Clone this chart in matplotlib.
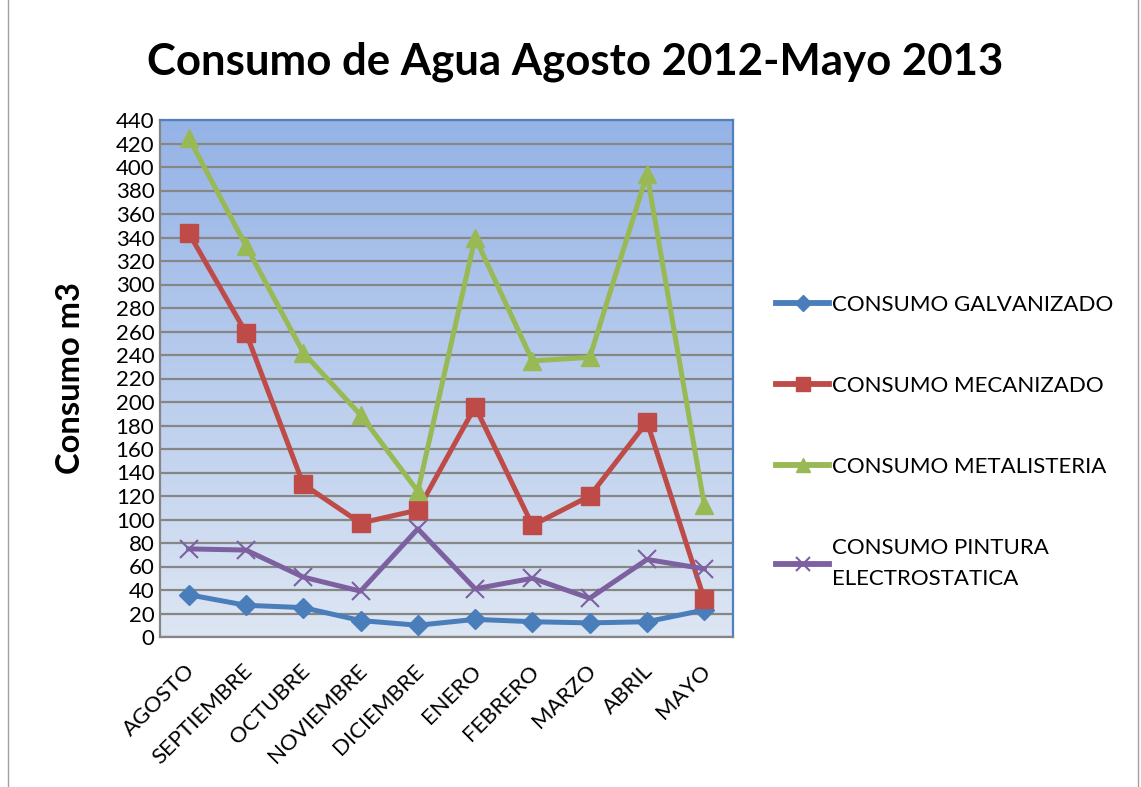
import numpy as np
import matplotlib
matplotlib.use("Agg")
import matplotlib.pyplot as plt
import matplotlib.transforms as mtrans
from matplotlib.patches import Rectangle

plt.rcParams['font.family'] = ['Lato', 'DejaVu Sans']

# ---------------------------------------------------------------------------
# Data
# ---------------------------------------------------------------------------
meses = ['AGOSTO', 'SEPTIEMBRE', 'OCTUBRE', 'NOVIEMBRE', 'DICIEMBRE',
         'ENERO', 'FEBRERO', 'MARZO', 'ABRIL', 'MAYO']
galvanizado = [36, 27, 25, 14, 10, 15, 13, 12, 13, 23]
mecanizado  = [344, 259, 130, 97, 108, 196, 95, 120, 183, 32]
metalisteria = [425, 333, 242, 189, 124, 340, 235, 238, 394, 112]
pintura     = [75, 74, 51, 39, 92, 41, 50, 33, 66, 58]

series = [
    ('CONSUMO GALVANIZADO', galvanizado, '#4a7ebb', 'D', 10),
    ('CONSUMO MECANIZADO', mecanizado, '#be4b48', 's', 13),
    ('CONSUMO METALISTERIA', metalisteria, '#98b954', '^', 13),
    ('CONSUMO PINTURA\nELECTROSTATICA', pintura, '#7d60a0', 'x', 13),
]

fig = plt.figure(figsize=(11.41, 7.87), dpi=100)
ax = fig.add_axes([160/1141, 1 - 637/787, 573/1141, 517/787])

# gradient background
grad = np.linspace(0, 1, 256).reshape(-1, 1)
top = np.array([0x95, 0xb3, 0xe7]) / 255
bot = np.array([0xdd, 0xe6, 0xf3]) / 255
img = top[None, None, :] * (1 - grad[:, :, None]) + bot[None, None, :] * grad[:, :, None]
ax.imshow(img, extent=[0, 1, 0, 1], transform=ax.transAxes, aspect='auto', zorder=0)

x = np.arange(len(meses))
for label, vals, col, mk, ms in series:
    kw = dict(color=col, lw=3.6, marker=mk, markersize=ms, label=label, zorder=3)
    if mk == 'x':
        kw.update(markeredgewidth=1.5)
    ax.plot(x, vals, **kw)

ax.set_xlim(-0.5, len(meses) - 0.5)
ax.set_ylim(0, 440)
ax.set_yticks(np.arange(0, 441, 20))
ax.yaxis.grid(True, color='#868686', lw=1.6, zorder=1)
ax.set_axisbelow(True)
ax.set_xticks(x)
ax.set_xticklabels([])
# month labels, rotated 45 deg, ending just under each category
shift = mtrans.ScaledTranslation(-4/100, -24/100, fig.dpi_scale_trans)
for i, m in enumerate(meses):
    ax.text(i, 0, m, transform=ax.get_xaxis_transform() + shift,
            rotation=45, ha='right', va='top', rotation_mode='anchor', fontsize=16)
ax.tick_params(axis='y', labelsize=16, length=0, pad=4)
ax.tick_params(axis='x', length=0)
for s in ['left', 'bottom']:
    ax.spines[s].set_color('#868686')
    ax.spines[s].set_linewidth(1.6)
for s in ['top', 'right']:
    ax.spines[s].set_color('#4f81bd')
    ax.spines[s].set_linewidth(1.6)

ax.set_ylabel('Consumo m3', fontsize=23.5, fontweight='bold', labelpad=22)
fig.text(575/1141, 1 - 62/787, 'Consumo de Agua Agosto 2012-Mayo 2013',
         ha='center', va='center', fontsize=31.5, fontweight='bold')

leg = fig.legend(loc='center left', bbox_to_anchor=(756/1141, 1 - 442/787),
                 frameon=False, fontsize=16, labelspacing=2.75, handlelength=2.4,
                 handletextpad=0.1, markerscale=0.8)
for t in leg.get_texts():
    t.set_linespacing(1.7)
for h in leg.legend_handles:
    h.set_linewidth(4.2)

fig.add_artist(Rectangle((8/1141, -0.01), 1130/1141, 1.02, transform=fig.transFigure,
                         fill=False, edgecolor='#a0a0a0', lw=1))

fig.savefig('out.png', dpi=100)
